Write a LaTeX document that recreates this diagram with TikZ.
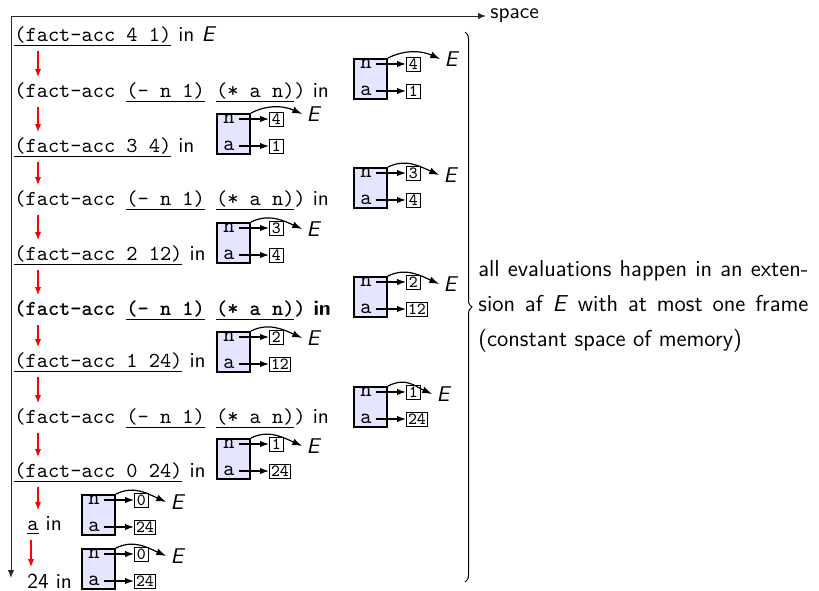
\documentclass[tikz,border=0pt]{standalone}
\usetikzlibrary{arrows.meta,decorations.pathreplacing,calc}
\newcommand\slidefont{\fontsize{10.67pt}{12.8pt}\selectfont\sffamily}
\newcommand\notefont{\fontsize{11.5pt}{13.8pt}\selectfont\sffamily}
\newcommand\boxnumfont{\fontsize{8.5pt}{10pt}\selectfont\ttfamily}
\newcommand\envE{\textit{E}}
\tikzset{
  every node/.style={font=\slidefont},
  rowtext/.style={anchor=base west, inner sep=0pt},
  notetext/.style={anchor=base west, inner sep=0pt, font=\notefont},
  framebox/.style={draw=black, line width=1pt, fill=blue!10, minimum width=16.5pt,
    minimum height=20pt, anchor=north west, inner sep=0pt},
  fvar/.style={font=\slidefont\ttfamily, inner ysep=0pt, inner xsep=1.8pt},
  numbox/.style={draw, line width=0.4pt, font=\boxnumfont, inner sep=0.8pt,
    minimum width=7pt, minimum height=7pt, anchor=west},
  enode/.style={inner sep=2pt},
  ptr/.style={-{Latex[length=4.5pt,width=3.2pt]}, line width=0.6pt},
  envptr/.style={-{Latex[length=5pt,width=3.4pt]}, line width=0.6pt},
  redarrow/.style={red, line width=0.6pt, -{Latex[length=4pt,width=3.2pt]}},
  axis/.style={black!85, line width=0.5pt, -{Latex[length=4pt,width=3.2pt]}},
  bracestyle/.style={decorate, decoration={brace, amplitude=3.5pt}, line width=0.5pt},
}
% #1 name, #2 L, #3 T, #4 n value, #5 a value, #6 E x-offset, #7 E y-offset
\newcommand\envframe[7]{%
  \node[framebox] (#1) at (#2+1,#3+1) {};
  \node[fvar] (#1n) at (#2+14,#3+7) {n};
  \node[fvar] (#1a) at (#2+14,#3+34) {a};
  \node[numbox] (#1nv) at (#2+54,#3+7) {#4};
  \node[numbox] (#1av) at (#2+54,#3+34) {#5};
  \node[enode] (#1E) at (#2+#6,#3+#7) {\envE};
  \draw[ptr] (#1n) -- (#1nv);
  \draw[ptr] (#1a) -- (#1av);
  \draw[envptr] (#1.north east) .. controls +(18,-9) and +(-18,-8) .. (#1E.west);
}
\begin{document}
\begin{tikzpicture}[x=0.5pt,y=-0.5pt]
\useasboundingbox (0,0) rectangle (819,590);
% axes
\coordinate (O) at (11,16);
\coordinate (Tend) at (11,578);
\node[anchor=west, inner sep=2pt] (space) at (486,16) {space};
\draw[axis] (O) -- (space.west);
\draw[axis] (O) -- (Tend);
% rows
\node[rowtext] (r1) at (14,41) {\underline{\texttt{(fact-acc 4 1)}} in \envE};
\node[rowtext] (r2) at (14,97) {\texttt{(fact-acc \underline{(- n 1)} \underline{(* a n)})} in};
\node[rowtext] (r3) at (14,152) {\underline{\texttt{(fact-acc 3 4)}} in};
\node[rowtext] (r4) at (14,205) {\texttt{(fact-acc \underline{(- n 1)} \underline{(* a n)})} in};
\node[rowtext] (r5) at (14,260) {\underline{\texttt{(fact-acc 2 12)}} in};
\node[rowtext] (r6) at (14,315) {\bfseries\texttt{(fact-acc \underline{(- n 1)} \underline{(* a n)})} in};
\node[rowtext] (r7) at (14,367) {\underline{\texttt{(fact-acc 1 24)}} in};
\node[rowtext] (r8) at (14,423) {\texttt{(fact-acc \underline{(- n 1)} \underline{(* a n)})} in};
\node[rowtext] (r9) at (14,477) {\underline{\texttt{(fact-acc 0 24)}} in};
\node[rowtext] (r10) at (27,530) {\underline{\texttt{a}} in};
\node[rowtext] (r11) at (27,588) {24 in};
% red evaluation arrows
\draw[redarrow] ([shift={(24,10)}]r1.base west) -- ([shift={(24,-20)}]r2.base west);
\draw[redarrow] ([shift={(24,10)}]r2.base west) -- ([shift={(24,-20)}]r3.base west);
\draw[redarrow] ([shift={(24,10)}]r3.base west) -- ([shift={(24,-20)}]r4.base west);
\draw[redarrow] ([shift={(24,10)}]r4.base west) -- ([shift={(24,-20)}]r5.base west);
\draw[redarrow] ([shift={(24,10)}]r5.base west) -- ([shift={(24,-20)}]r6.base west);
\draw[redarrow] ([shift={(24,10)}]r6.base west) -- ([shift={(24,-20)}]r7.base west);
\draw[redarrow] ([shift={(24,10)}]r7.base west) -- ([shift={(24,-20)}]r8.base west);
\draw[redarrow] ([shift={(24,10)}]r8.base west) -- ([shift={(24,-20)}]r9.base west);
\draw[redarrow] ([shift={(24,10)}]r9.base west) -- ([shift={(11,-20)}]r10.base west);
\draw[redarrow] ([shift={(4,10)}]r10.base west) -- ([shift={(4,-21)}]r11.base west);
% environment frames
\envframe{f2}{352}{57}{4}{1}{100}{2}
\envframe{f3}{215}{112}{4}{1}{99}{2}
\envframe{f4}{352}{166}{3}{4}{99}{9}
\envframe{f5}{215}{221}{3}{4}{99}{8}
\envframe{f6}{352}{275}{2}{12}{99}{9}
\envframe{f7}{215}{330}{2}{12}{99}{8}
\envframe{f8}{352}{385}{1}{24}{92}{9}
\envframe{f9}{215}{437}{1}{24}{99}{9}
\envframe{f10}{80}{493}{0}{24}{98}{9}
\envframe{f11}{80}{547}{0}{24}{98}{9}
% brace and note
\coordinate (bt) at (465,32);
\coordinate (bb) at (465,582);
\draw[bracestyle] (bt) -- (bb);
\node[notetext] (note1) at (478,276) {\makebox[165pt][s]{all evaluations happen in an exten-}};
\node[notetext] (note2) at (478,311) {\makebox[165pt][s]{sion af \envE{} with at most one frame}};
\node[notetext] (note3) at (478,346) {(constant space of memory)};
\end{tikzpicture}
\end{document}
